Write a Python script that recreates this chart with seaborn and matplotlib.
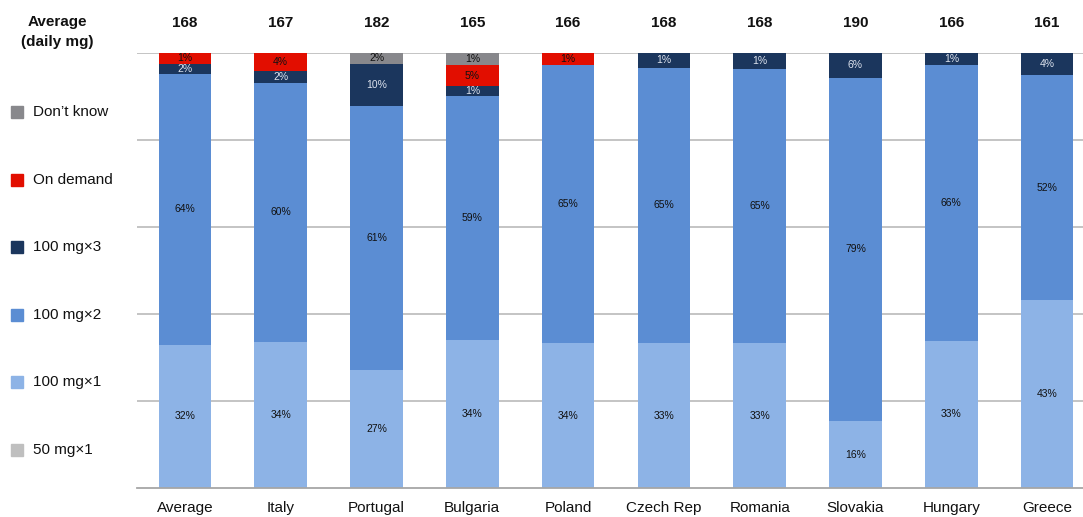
import numpy as np
import pandas as pd
import seaborn as sns
import matplotlib.pyplot as plt
from matplotlib.patches import Rectangle

countries = ["Average", "Italy", "Portugal", "Bulgaria", "Poland",
             "Czech Rep", "Romania", "Slovakia", "Hungary", "Greece"]
avg_daily_mg = [168, 167, 182, 165, 166, 168, 168, 190, 166, 161]

# printed labels (%) per segment, bottom to top
lbl_50_x1 = [0, 0, 0, 0, 0, 0, 0, 0, 0, 0]
lbl_100_x1 = [32, 34, 27, 34, 34, 33, 33, 16, 33, 43]
lbl_100_x2 = [64, 60, 61, 59, 65, 65, 65, 79, 66, 52]
lbl_100_x3 = [2, 2, 10, 1, 0, 1, 1, 6, 1, 4]
lbl_on_demand = [1, 4, 0, 5, 1, 0, 0, 0, 0, 0]
lbl_dont_know = [0, 0, 2, 1, 0, 0, 0, 0, 0, 0]

# drawn segment heights (%) as measured on the chart
h_50_x1 = [0, 0, 0, 0, 0, 0, 0, 0, 0, 0]
h_100_x1 = [32.9, 33.6, 27.1, 34.0, 33.3, 33.3, 33.3, 15.4, 33.8, 43.2]
h_100_x2 = [62.3, 59.5, 60.7, 56.1, 63.9, 63.3, 63.0, 78.9, 63.4, 51.7]
h_100_x3 = [2.3, 2.8, 9.7, 2.3, 0, 3.4, 3.7, 5.7, 2.8, 5.1]
h_on_demand = [2.5, 4.1, 0, 4.8, 2.8, 0, 0, 0, 0, 0]
h_dont_know = [0, 0, 2.5, 2.8, 0, 0, 0, 0, 0, 0]

series = ["50 mg\u00d71", "100 mg\u00d71", "100 mg\u00d72", "100 mg\u00d73", "On demand", "Don\u2019t know"]
labels = [lbl_50_x1, lbl_100_x1, lbl_100_x2, lbl_100_x3, lbl_on_demand, lbl_dont_know]
heights = [h_50_x1, h_100_x1, h_100_x2, h_100_x3, h_on_demand, h_dont_know]
colors = ["#BFBFBF", "#8DB3E6", "#5B8DD3", "#1B365D", "#E20E00", "#88888C"]
text_colors = ["#111111", "#111111", "#111111", "#DDE3EE", "#111111", "#111111"]

sns.set_style("white")
plt.rcParams["font.family"] = ["Liberation Sans", "DejaVu Sans"]

df = pd.DataFrame(np.array(heights).T, columns=series, index=countries)
df = df.div(df.sum(axis=1), axis=0) * 100
cum = df.cumsum(axis=1)

fig = plt.figure(figsize=(10.83, 5.17), dpi=100)
ax = fig.add_axes([137 / 1083, 29 / 517, 958 / 1083, 435 / 517])

for y in [20, 40, 60, 80, 100]:
    ax.axhline(y, color="#BFBFBF", lw=1.3, zorder=0)

# cumulative bars drawn from the top down, each layer covering the one beneath
for name, col in reversed(list(zip(series, colors))):
    sns.barplot(x=countries, y=cum[name].values, color=col, width=0.55,
                saturation=1, linewidth=0, ax=ax, zorder=2)

for j, name in enumerate(series):
    for i, c in enumerate(countries):
        raw = labels[j][i]
        if raw == 0:
            continue
        mid = cum[name].iloc[i] - df[name].iloc[i] / 2
        ax.text(i, mid, f"{raw}%", ha="center", va="center", fontsize=7.5,
                color=text_colors[j], zorder=3)

ax.set_xlim(-0.5, 9.5)
ax.set_ylim(0, 100)
ax.set_yticks([])
ax.set_ylabel("")
for s in ["left", "right", "top"]:
    ax.spines[s].set_visible(False)
ax.spines["bottom"].set_color("#A6A6A6")
ax.spines["bottom"].set_linewidth(1.3)
ax.set_xticks(range(len(countries)))
ax.set_xticklabels(countries, fontsize=11, color="#111111")
ax.tick_params(axis="x", which="major", length=0, pad=9.5)
ax.set_xticks(np.arange(-0.5, len(countries), 1), minor=True)
ax.tick_params(axis="x", which="minor", length=7, color="#A6A6A6", width=1.3)

for i, v in enumerate(avg_daily_mg):
    ax.text(i, 1.069, str(v), transform=ax.get_xaxis_transform(), ha="center",
            va="center", fontsize=11, fontweight="bold", color="#111111")

fig.text(57 / 1083, 1 - 22 / 517, "Average", ha="center", va="center",
         fontsize=11, fontweight="bold", color="#111111")
fig.text(57 / 1083, 1 - 42 / 517, "(daily mg)", ha="center", va="center",
         fontsize=11, fontweight="bold", color="#111111")

legend_y = [450, 382, 315, 247, 180, 112]
for name, col, ly in zip(series, colors, legend_y):
    fig.patches.append(Rectangle((11 / 1083, 1 - (ly + 6) / 517), 12 / 1083, 12 / 517,
                                 transform=fig.transFigure, color=col))
    fig.text(33 / 1083, 1 - ly / 517, name, ha="left", va="center",
             fontsize=11, color="#111111")

fig.savefig("out.png", dpi=100)
